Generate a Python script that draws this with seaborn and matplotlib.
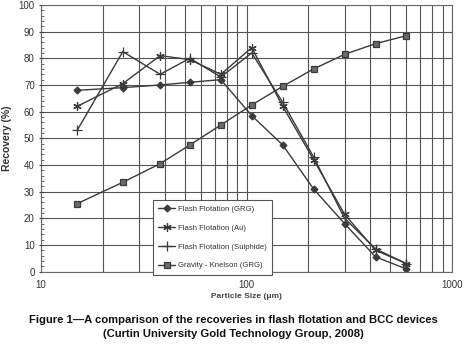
import numpy as np
import pandas as pd
import matplotlib
matplotlib.use("Agg")
import matplotlib.pyplot as plt
import seaborn as sns

sizes = [15, 25, 38, 53, 75, 106, 150, 212, 300, 425, 600]
flash_grg = [68, 69, 70, 71, 72, 58.5, 47.5, 31, 18, 5.5, 1]
flash_au = [62, 70.5, 81, 79.5, 74, 84, 62, 42, 21.5, 8, 3]
flash_sulphide = [53, 82.5, 74, 80, 73, 82, 63.5, 43, 20, 8.5, 3]
gravity_knelson = [25.5, 33.5, 40.5, 47.5, 55, 62.5, 69.5, 76, 81.5, 85.5, 88.5]

series_names = ["Flash Flotation (GRG)", "Flash Flotation (Au)",
                "Flash Flotation (Sulphide)", "Gravity - Knelson (GRG)"]
series_values = [flash_grg, flash_au, flash_sulphide, gravity_knelson]

df = pd.DataFrame({
    "size": sizes * 4,
    "recovery": sum(series_values, []),
    "series": np.repeat(series_names, len(sizes)),
})

sns.set_style("ticks")
plt.rcParams["font.family"] = ["Liberation Sans", "DejaVu Sans"]

fig = plt.figure(figsize=(4.66, 3.56), dpi=100)
ax = fig.add_axes([0.088, 0.237, 0.882, 0.749])

line_col = "#3a3a3a"
markers = {"Flash Flotation (GRG)": "D", "Flash Flotation (Au)": (6, 2, 0),
           "Flash Flotation (Sulphide)": "+", "Gravity - Knelson (GRG)": "s"}
msizes = {"Flash Flotation (GRG)": 3.5, "Flash Flotation (Au)": 6,
          "Flash Flotation (Sulphide)": 7, "Gravity - Knelson (GRG)": 4.5}

for name in series_names:
    sub = df[df["series"] == name]
    sns.lineplot(data=sub, x="size", y="recovery", ax=ax, color=line_col,
                 linewidth=1.0, marker=markers[name], markersize=msizes[name],
                 markerfacecolor="#6a6a6a" if name.startswith("Gravity") else line_col,
                 markeredgecolor=line_col, markeredgewidth=0.9, label=name)

ax.set_xscale("log")
ax.set_xlim(10, 1000)
ax.set_ylim(0, 100)
ax.set_yticks(range(0, 101, 10))
ax.set_yticks(range(0, 101, 2), minor=True)
ax.set_xticks([10, 100, 1000])
ax.set_xticklabels(["10", "100", "1000"])
ax.tick_params(axis="x", which="both", length=0, labelsize=7, pad=6, colors="#333333")
ax.tick_params(axis="y", which="major", length=3, direction="inout", labelsize=7,
               pad=3, colors="#333333")
ax.tick_params(axis="y", which="minor", length=2, direction="in", color="#555555")

ax.grid(True, which="major", axis="y", color="#555555", linewidth=0.8)
ax.grid(True, which="both", axis="x", color="#555555", linewidth=0.8)
for s in ax.spines.values():
    s.set_color("#666666")
    s.set_linewidth(0.8)

ax.set_xlabel("Particle Size (\u03bcm)", fontsize=6, fontweight="bold", color="#444444", labelpad=2)
ax.set_ylabel("Recovery (%)", fontsize=7.5, fontweight="bold", color="#333333", labelpad=5)

leg = ax.legend(loc="upper left", bbox_to_anchor=(0.272, 0.268), fontsize=5.6,
                frameon=True, fancybox=False, edgecolor="#555555", framealpha=1,
                borderpad=0.7, labelspacing=1.45, handlelength=2.2, handletextpad=0.3,
                borderaxespad=0)
leg.get_frame().set_linewidth(0.8)
for t in leg.get_texts():
    t.set_color("#333333")

fig.text(0.5, 0.093, "Figure 1\u2014A comparison of the recoveries in flash flotation and BCC devices",
         ha="center", fontsize=8.1, fontweight="bold", color="#111111")
fig.text(0.5, 0.053, "(Curtin University Gold Technology Group, 2008)",
         ha="center", fontsize=8.1, fontweight="bold", color="#111111")

fig.savefig("out.png", dpi=100)
